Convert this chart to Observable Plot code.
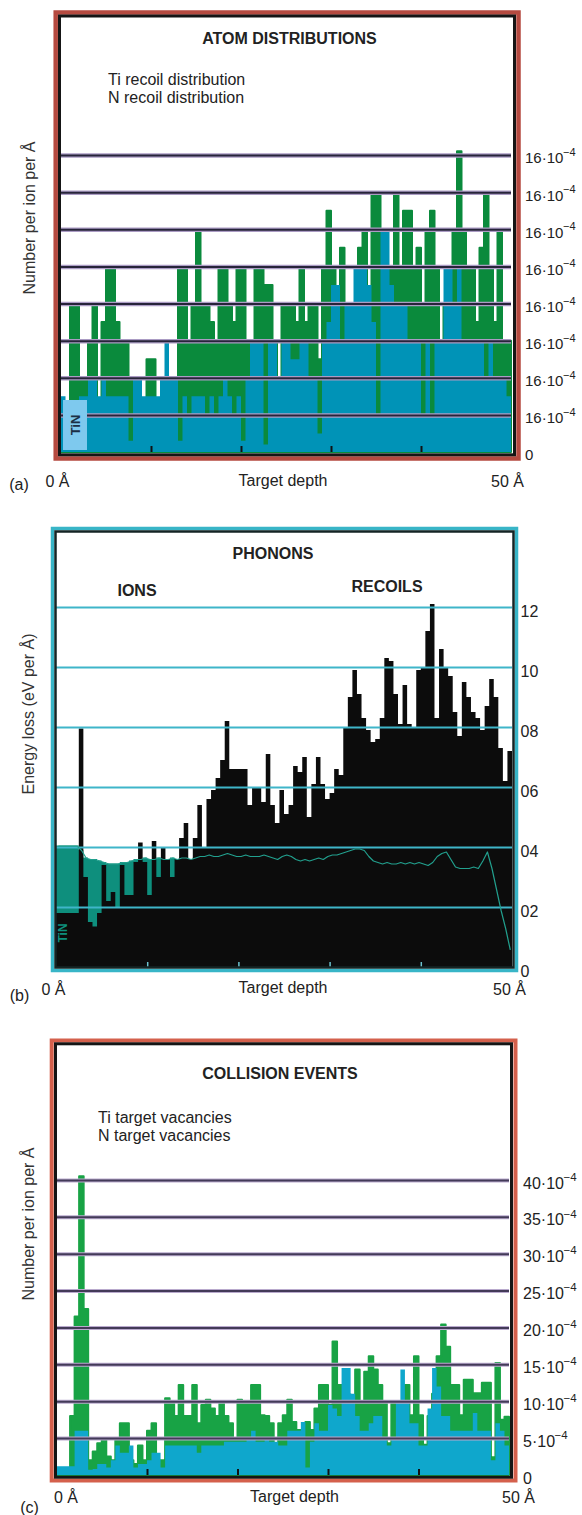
<!DOCTYPE html>
<html><head><meta charset="utf-8">
<script src="https://cdn.jsdelivr.net/npm/d3@7"></script>
<script src="https://cdn.jsdelivr.net/npm/@observablehq/plot@0.6"></script>
<style>
body{margin:0;background:#fff;}
#page{position:relative;width:582px;height:1515px;font-family:"Liberation Sans",Arial,Helvetica,sans-serif;color:#222;overflow:hidden;}
#page svg{position:absolute;left:0;}
.t{position:absolute;white-space:nowrap;transform:translate(-50%,-50%);font-size:16px;line-height:1;}
.l{position:absolute;white-space:nowrap;transform:translate(0,-50%);font-size:16px;line-height:1;}
.b{font-weight:bold;}
.r{transform:translate(-50%,-50%) rotate(-90deg);}
</style></head><body>
<div id="page">
  <div class="t b" style="left:289.5px;top:39px;">ATOM DISTRIBUTIONS</div>
  <div class="l" style="left:108px;top:80px;">Ti recoil distribution</div>
  <div class="l" style="left:108px;top:98px;">N recoil distribution</div>
  <div class="t r" style="left:29.5px;top:217.5px;color:#333;">Number per ion per Å</div>
  <div class="t" style="left:283px;top:481px;">Target depth</div>
  <div class="t" style="left:19px;top:485px;">(a)</div>

  <div class="t b" style="left:273px;top:554px;">PHONONS</div>
  <div class="t b" style="left:137px;top:590.5px;">IONS</div>
  <div class="t b" style="left:387px;top:586.5px;">RECOILS</div>
  <div class="t r" style="left:29px;top:714px;color:#333;">Energy loss (eV per Å)</div>
  <div class="t" style="left:283px;top:988px;">Target depth</div>
  <div class="t" style="left:19.5px;top:996px;">(b)</div>

  <div class="t b" style="left:280px;top:1074px;">COLLISION EVENTS</div>
  <div class="l" style="left:98px;top:1118px;">Ti target vacancies</div>
  <div class="l" style="left:98px;top:1136px;">N target vacancies</div>
  <div class="t r" style="left:28.5px;top:1224px;color:#333;">Number per ion per Å</div>
  <div class="t" style="left:294.5px;top:1497px;">Target depth</div>
  <div class="t" style="left:29.5px;top:1508px;">(c)</div>
</div>
<script>
// ---------- data ----------
const depthTicks = [0, 50];
const depthLabels = ["0 Å", "50 Å"];
const innerTicks = [10, 20, 30, 40];
const exponent = "−4";

// (a) atom distributions, 100 bins of 0.5 Å (grid units)
const tiRecoil = [
  0.1, 0.3, 4, 4, 2, 2, 3, 4, 1, 3.5,
  5, 5, 3.5, 3, 3, 2, 1, 1, 0.5, 2.5,
  2.5, 1, 1, 1, 1, 1.5, 5, 5, 3, 4,
  6, 4, 4, 3.5, 3, 5, 5, 4, 3.5, 5,
  5, 3, 3, 5, 5, 4.5, 4.5, 3, 2, 4,
  4, 4, 3.5, 5, 3.5, 4, 4, 2.5, 5, 6.5,
  5, 3, 5.5, 3.5, 3.5, 3, 5.5, 6, 4, 7,
  7, 4, 4, 5, 7, 5, 6.5, 6.5, 5, 5.5,
  4, 6, 6.5, 5, 3, 4, 4, 6, 8.1, 6,
  5, 5, 3.5, 5.5, 7, 5, 3.5, 6, 3, 3
];
const nRecoil = [
  1.5, 1.2, 1.2, 1.2, 1.5, 1.5, 2, 2, 1.5, 2,
  1.5, 1.5, 1.5, 1.5, 1.5, 0.3, 2, 2, 1.5, 1.5,
  1.5, 1.5, 2, 3, 2, 2, 0.3, 1.5, 1, 1.5,
  1.5, 1.5, 1, 1.5, 1, 1.5, 2, 1.5, 1, 1.5,
  0.3, 2, 3, 3, 3, 0.2, 3, 3, 2, 3,
  3, 2.5, 2.5, 3, 3, 2, 2, 0.5, 3, 3.5,
  4.5, 4.5, 3, 4, 4, 5, 5, 5, 4.5, 3.5,
  1, 6, 6, 4.5, 4, 4, 4, 3, 3, 3,
  1, 3, 1, 3, 3, 5, 5, 4, 5, 3,
  3, 3, 3, 3, 2, 3, 2, 2, 2, 1.5
];
const yTicksA = [0, 1, 2, 3, 4, 5, 6, 7, 8];
const yLabelsA = ["0", "16·10", "16·10", "16·10", "16·10", "16·10", "16·10", "16·10", "16·10"];

// (b) phonons
const phononTotal = [
  1.8, 1.8, 1.8, 1.8, 1.8, 7.95, 3.0, 1.5, 1.35, 1.8,
  3.4, 2.2, 2.5, 2.0, 3.4, 2.4, 2.4, 3.5, 4.15, 3.5,
  2.4, 4.2, 3.0, 4.0, 3.6, 3.0, 3.6, 4.3, 4.8, 3.6,
  4.3, 5.4, 4.0, 5.6, 5.9, 6.3, 6.9, 8.2, 6.6, 6.6,
  6.6, 6.6, 5.4, 6.0, 6.0, 5.5, 7.1, 5.4, 4.8, 5.9,
  5.1, 5.4, 6.7, 6.5, 7.0, 5.0, 6.1, 7.0, 6.1, 5.6,
  5.8, 6.6, 6.4, 8.0, 9.0, 9.9, 9.1, 8.3, 7.9, 7.5,
  7.6, 8.3, 10.3, 10.2, 9.1, 8.1, 9.4, 8.1, 8.0, 9.9,
  10.0, 11.2, 12.1, 8.3, 10.6, 10.0, 9.7, 8.5, 7.7, 9.5,
  9.0, 8.5, 8.3, 7.9, 8.7, 9.6, 9.0, 7.3, 6.2, 7.2
];
const phononIons = [
  4.05, 4.05, 4.05, 4.05, 4.05, 3.9, 3.65, 3.6, 3.6, 3.55,
  3.5, 3.45, 3.45, 3.45, 3.5, 3.5, 3.55, 3.6, 3.6, 3.65,
  3.6, 3.6, 3.65, 3.6, 3.6, 3.65, 3.6, 3.65, 3.65, 3.6,
  3.65, 3.7, 3.7, 3.75, 3.7, 3.7, 3.75, 3.8, 3.75, 3.7,
  3.7, 3.75, 3.7, 3.7, 3.7, 3.75, 3.7, 3.65, 3.6, 3.7,
  3.75, 3.7, 3.6, 3.55, 3.6, 3.55, 3.6, 3.65, 3.6, 3.7,
  3.75, 3.75, 3.8, 3.85, 3.9, 3.95, 3.95, 3.9, 3.7, 3.55,
  3.5, 3.45, 3.5, 3.45, 3.45, 3.5, 3.45, 3.5, 3.45, 3.5,
  3.45, 3.4, 3.5, 3.7, 3.8, 3.85, 3.6, 3.35, 3.3, 3.3,
  3.3, 3.35, 3.3, 3.55, 3.85, 3.3, 2.6, 1.9, 1.3, 0.6
];
const yTicksB = [0, 2, 4, 6, 8, 10, 12];
const yLabelsB = ["0", "02", "04", "06", "08", "10", "12"];

// (c) collision events (×10⁻⁴)
const tiVacancies = [
  0.5, 0.5, 0.5, 8, 21.5, 40.5, 22.5, 2, 3.2, 4.3,
  5, 2.5, 2, 5, 7, 7, 2, 1.5, 4, 2,
  6, 7, 2, 2, 10.4, 10, 8, 12.2, 8, 8,
  12.2, 7, 9.5, 10.2, 9, 8, 10, 8, 7, 5,
  10.2, 10, 10, 12.2, 12.2, 8.1, 8, 7, 4.3, 7,
  8.1, 10.2, 7.2, 6.1, 5, 7.2, 6.1, 9, 12.2, 12.2,
  9.5, 18.1, 12.2, 10.9, 10.9, 9.3, 14.3, 10, 14, 16.1,
  14.3, 12.2, 10, 4.3, 10, 10, 10, 12.2, 8.1, 16.1,
  8.1, 4.1, 8, 11, 16.1, 20.4, 17.4, 12.2, 12.2, 8.1,
  12.9, 12.9, 11.1, 11.1, 12.5, 12.5, 2.4, 15.2, 7.5, 7.9
];
const nVacancies = [
  1.2, 1.2, 1.2, 1.2, 6, 6, 6, 0.7, 0.8, 1.5,
  1.5, 1, 2, 4, 3, 3, 4, 1, 1.5, 1.5,
  2, 3, 3, 1, 4, 4, 4, 4, 4, 4,
  4, 3, 4, 4, 4, 4, 4, 4.5, 4.5, 4.5,
  4.5, 4.5, 5, 6, 4.5, 4.5, 5, 4.5, 4.5, 4,
  4, 6, 6, 6, 7.2, 1, 4.5, 7, 6, 6,
  9.5, 9, 8, 14.5, 14.5, 11, 8, 6, 6, 7,
  8, 8, 5, 4, 5, 10, 14.3, 10, 7, 7,
  4, 4, 9, 14.5, 12, 8, 8, 6, 6, 6,
  6, 6, 8.4, 6, 6, 6, 2, 7, 6, 4
];
const yTicksC = [0, 5, 10, 15, 20, 25, 30, 35, 40];
const yLabelsC = ["0", "5·10", "10·10", "15·10", "20·10", "25·10", "30·10", "35·10", "40·10"];

// ---------- helpers ----------
const BIN = 0.5;
function steps(values) {
  const rows = values.map((v, i) => ({x: i * BIN, v}));
  rows.push({x: values.length * BIN, v: values[values.length - 1]});
  return rows;
}
function centers(values) {
  return values.map((v, i) => ({x: i * BIN + BIN / 2, v}));
}
const baseStyle = {fontFamily: "'Liberation Sans', Arial, Helvetica, sans-serif", fontSize: "15px", color: "#222", background: "transparent", overflow: "visible"};
const page = document.getElementById("page");
function place(svg, top) {
  svg.style.top = top + "px";
  page.insertBefore(svg, page.firstChild);
}

// ---------- (a) ----------
const plotA = Plot.plot({
  width: 582, height: 500,
  marginLeft: 61, marginRight: 71, marginTop: 17, marginBottom: 48,
  x: {domain: [0, 50], label: null},
  y: {domain: [0, 11.72], label: null},
  style: baseStyle,
  marks: [
    Plot.areaY(steps(tiRecoil), {x: "x", y: "v", curve: "step-after", fill: "#0a8a3c", stroke: "#0a8a3c", strokeWidth: 2, strokeLinejoin: "round"}),
    Plot.areaY(steps(nRecoil), {x: "x", y: "v", curve: "step-after", fill: "#0093b7"}),
    Plot.ruleY(yTicksA.slice(1), {stroke: "#ab9cc4", strokeWidth: 4.5}),
    Plot.ruleY(yTicksA.slice(1), {stroke: "#27243a", strokeWidth: 2}),
    Plot.axisX(innerTicks, {tickSize: -6, tickFormat: () => "", stroke: "#111", strokeWidth: 2, label: null}),
    Plot.axisX(depthTicks, {tickSize: 0, tickPadding: 23, tickFormat: d => depthLabels[depthTicks.indexOf(d)], fontSize: 16, dx: -4, label: null}),
    Plot.axisY(yTicksA, {anchor: "right", tickSize: 0, tickPadding: 13.5, tickFormat: d => yLabelsA[yTicksA.indexOf(d)], fontSize: 15, dy: 3, label: null}),
    Plot.text(yTicksA.slice(1), {y: d => d, frameAnchor: "right", textAnchor: "start", text: () => exponent, dx: 51.5, dy: -3, fontSize: 11, fill: "#222"}),
    Plot.frame({stroke: "#b54a40", strokeWidth: 4.5, insetLeft: -5.8, insetRight: -7, insetTop: -5, insetBottom: -6}),
    Plot.frame({stroke: "#151515", strokeWidth: 3, insetLeft: -2, insetRight: -3, insetTop: -1.5, insetBottom: -2.3})
  ]
});
place(plotA, 0);

// ---------- (b) ----------
const plotB = Plot.plot({
  width: 582, height: 520,
  marginLeft: 56, marginRight: 70, marginTop: 32, marginBottom: 53,
  x: {domain: [0, 50], label: null},
  y: {domain: [0, 14.5], label: null},
  style: baseStyle,
  marks: [
    Plot.areaY(steps(phononIons), {x: "x", y: "v", curve: "step-after", fill: "#0e8f7d"}),
    Plot.areaY(steps(phononTotal), {x: "x", y: "v", curve: "step-after", fill: "#0c0c0c"}),
    Plot.ruleY(yTicksB.slice(1), {stroke: "#3fb5c9", strokeWidth: 2.2}),
    Plot.lineY(centers(phononIons), {x: "x", y: "v", stroke: "#22a08e", strokeWidth: 1.2}),
    Plot.axisX(innerTicks, {tickSize: -5, tickFormat: () => "", stroke: "#6cc3cf", strokeWidth: 1.5, label: null}),
    Plot.axisX(depthTicks, {tickSize: 0, tickPadding: 16.5, tickFormat: d => depthLabels[depthTicks.indexOf(d)], fontSize: 16, dx: -3, label: null}),
    Plot.axisY(yTicksB, {anchor: "right", tickSize: 0, tickPadding: 8, tickFormat: d => yLabelsB[yTicksB.indexOf(d)], fontSize: 16, dy: 4, label: null}),
    Plot.frame({stroke: "#38b5c7", strokeWidth: 3.5, insetLeft: -4, insetRight: -4, insetTop: -4, insetBottom: -3}),
    Plot.frame({stroke: "#142424", strokeWidth: 2.5, insetLeft: -1, insetRight: -1, insetTop: -1, insetBottom: 0})
  ]
});
place(plotB, 500);

// ---------- (c) ----------
const plotC = Plot.plot({
  width: 582, height: 495,
  marginLeft: 56.5, marginRight: 73, marginTop: 25, marginBottom: 40,
  x: {domain: [0, 50], label: null},
  y: {domain: [0, 58.3], label: null},
  style: baseStyle,
  marks: [
    Plot.areaY(steps(tiVacancies), {x: "x", y: "v", curve: "step-after", fill: "#18a345", stroke: "#18a345", strokeWidth: 2, strokeLinejoin: "round"}),
    Plot.areaY(steps(nVacancies), {x: "x", y: "v", curve: "step-after", fill: "#0fa7cc"}),
    Plot.ruleY(yTicksC.slice(1), {stroke: "#b9aacd", strokeWidth: 4}),
    Plot.ruleY(yTicksC.slice(1), {stroke: "#433a58", strokeWidth: 2}),
    Plot.axisX(innerTicks, {tickSize: -6, tickFormat: () => "", stroke: "#111", strokeWidth: 2, label: null}),
    Plot.axisX(depthTicks, {tickSize: 0, tickPadding: 16.5, tickFormat: d => depthLabels[depthTicks.indexOf(d)], fontSize: 16, dx: 9, label: null}),
    Plot.axisY(yTicksC, {anchor: "right", tickSize: 0, tickPadding: 13.5, tickFormat: d => yLabelsC[yTicksC.indexOf(d)], fontSize: 16, dy: 3, label: null}),
    Plot.text(yTicksC.filter(d => d > 0 && d < 10), {y: d => d, frameAnchor: "right", textAnchor: "start", text: () => exponent, dx: 45, dy: -3.5, fontSize: 11.5, fill: "#222"}),
    Plot.text(yTicksC.filter(d => d >= 10), {y: d => d, frameAnchor: "right", textAnchor: "start", text: () => exponent, dx: 54, dy: -3.5, fontSize: 11.5, fill: "#222"}),
    Plot.frame({stroke: "#d4604c", strokeWidth: 4, insetLeft: -5.3, insetRight: -6, insetTop: -5, insetBottom: -5}),
    Plot.frame({stroke: "#151515", strokeWidth: 3, insetLeft: -1.5, insetRight: -2, insetTop: -1.7, insetBottom: -1.7})
  ]
});
place(plotC, 1020);

// label boxes drawn over the plots
const tinA = document.createElement("div");
tinA.style.cssText = "position:absolute;left:63px;top:400px;width:24px;height:50px;background:#7ec9ee;";
page.appendChild(tinA);
const tinAText = document.createElement("div");
tinAText.className = "t r b";
tinAText.style.cssText = "left:75px;top:425px;font-size:13px;color:#1b2f45;";
tinAText.textContent = "TiN";
page.appendChild(tinAText);
const tinB = document.createElement("div");
tinB.className = "t r b";
tinB.style.cssText = "left:63px;top:933px;font-size:12px;color:#0e8f7d;";
tinB.textContent = "TiN";
page.appendChild(tinB);
</script>
</body></html>
